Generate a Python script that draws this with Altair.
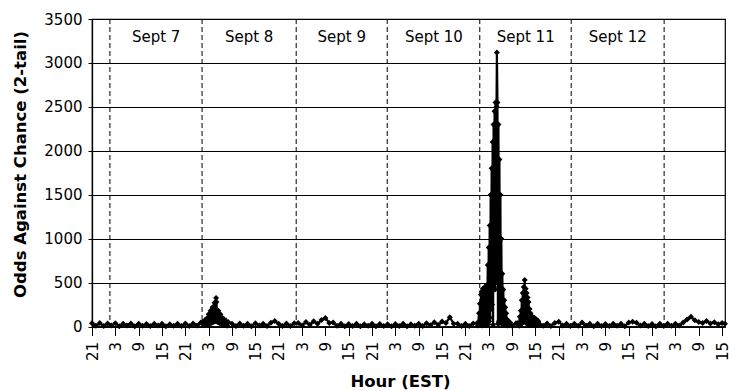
import altair as alt
import pandas as pd

# ---------------- data (hours since Sept 6, 21:00 EST) ----------------
base_a_hours = list(range(0, 29))
base_a_vals = [38, 8, 40, 5, 33, 12, 36, 4, 30, 10,
               34, 3, 30, 9, 28, 6, 32, 11, 30, 4,
               27, 9, 31, 5, 34, 7, 35, 10, 45]

# Sept 8 morning peak
peak8 = [(28.5, 50), (28.75, 15), (29.0, 70), (29.25, 20), (29.5, 90), (29.75, 25),
         (30.0, 140), (30.25, 30), (30.5, 180), (30.75, 40), (31.0, 220), (31.25, 50),
         (31.5, 270), (31.75, 60), (31.9, 325), (32.0, 280), (32.25, 50), (32.5, 180),
         (32.75, 40), (33.0, 140), (33.25, 30), (33.5, 100), (33.75, 25), (34.0, 80),
         (34.25, 20), (34.5, 60), (34.75, 15), (35.0, 50)]

base_b_hours = list(range(36, 99))
base_b_vals = [30, 5, 34, 8, 30, 4, 36, 10, 32, 6,
               42, 62, 30, 6, 34, 5, 36, 40, 12, 50,
               20, 60, 30, 75, 98, 40, 45, 8, 30, 4,
               28, 6, 30, 3, 26, 8, 30, 4, 28, 7,
               26, 3, 28, 6, 30, 4, 26, 8, 30, 5,
               38, 15, 48, 20, 58, 40, 105, 30, 32, 6,
               30, 5, 34]

# Sept 11 main spike
spike = [(99.0, 40), (99.25, 10), (99.5, 150), (99.625, 20), (99.75, 260), (99.875, 15),
         (100.0, 360), (100.125, 30), (100.25, 400), (100.375, 10), (100.5, 430),
         (100.625, 40), (100.75, 390), (100.875, 20), (101.0, 450), (101.125, 30),
         (101.25, 410), (101.375, 15), (101.5, 470), (101.625, 50), (101.75, 700),
         (101.875, 25), (102.0, 900), (102.125, 60), (102.25, 1150), (102.375, 100),
         (102.5, 1500), (102.625, 200), (102.75, 1800), (102.875, 250), (103.0, 2100),
         (103.125, 20), (103.25, 2300), (103.375, 450), (103.5, 2450), (103.625, 420),
         (103.75, 2550), (103.875, 500), (104.0, 2500), (104.1, 3120), (104.25, 2550),
         (104.375, 30), (104.5, 2300), (104.625, 60), (104.75, 1900), (104.875, 40),
         (105.0, 1500), (105.125, 80), (105.25, 1000), (105.375, 30), (105.5, 600),
         (105.625, 50), (105.75, 420), (105.875, 20), (106.0, 300), (106.125, 30),
         (106.25, 220), (106.375, 15), (106.5, 150), (106.625, 20), (106.75, 80),
         (106.875, 10), (107.0, 60), (107.25, 20), (107.5, 45)]

base_c_hours = [108, 109]
base_c_vals = [8, 36]

# Sept 11 second spike
spike2 = [(109.5, 40), (109.75, 15), (110.0, 110), (110.125, 20), (110.25, 180),
          (110.375, 30), (110.5, 300), (110.625, 40), (110.75, 380), (110.875, 50),
          (111.0, 450), (111.125, 60), (111.25, 530), (111.375, 50), (111.5, 430),
          (111.625, 40), (111.75, 380), (111.875, 30), (112.0, 330), (112.125, 40),
          (112.25, 280), (112.375, 30), (112.5, 200), (112.625, 25), (112.75, 150),
          (113.0, 20), (113.25, 110), (113.5, 15), (113.75, 100), (114.0, 20),
          (114.25, 80), (114.5, 15), (114.75, 60), (115.0, 30)]

base_d_hours = list(range(116, 163)) + [162.75]
base_d_vals = [8, 35, 6, 40, 55, 12, 30, 5, 32, 8,
               45, 10, 30, 4, 30, 6, 28, 5, 32, 8,
               30, 4, 45, 55, 42, 10, 30, 6, 28, 4,
               30, 5, 32, 8, 30, 10, 45, 80, 110, 70,
               50, 40, 62, 35, 48, 25, 40, 30]

# day separators and labels
day_line_hours = [4.6, 28.3, 52.5, 75.9, 99.7, 123.2, 147.1]
day_label_hours = [16.5, 40.4, 64.2, 87.9, 111.5, 135.2]
day_labels = ["Sept 7", "Sept 8", "Sept 9", "Sept 10", "Sept 11", "Sept 12"]

# axes
tick_hours = list(range(0, 163, 6))
tick_labels = ["21", "3", "9", "15", "21", "3", "9", "15", "21", "3", "9", "15",
               "21", "3", "9", "15", "21", "3", "9", "15", "21", "3", "9", "15",
               "21", "3", "9", "15"]
y_ticks = [0, 500, 1000, 1500, 2000, 2500, 3000, 3500]

# ---------------- build ----------------
hours = (base_a_hours + [p[0] for p in peak8] + base_b_hours + [p[0] for p in spike]
         + base_c_hours + [p[0] for p in spike2] + base_d_hours)
vals = (base_a_vals + [p[1] for p in peak8] + base_b_vals + [p[1] for p in spike]
        + base_c_vals + [p[1] for p in spike2] + base_d_vals)
df = pd.DataFrame({"h": hours, "v": vals})
df_lines = pd.DataFrame({"h": day_line_hours})
df_labels = pd.DataFrame({"h": day_label_hours, "label": day_labels})

FONT = "DejaVu Sans"
x_scale = alt.Scale(domain=[0, 162.75], nice=False, zero=False)
y_scale = alt.Scale(domain=[0, 3500], nice=False)

label_expr = "[" + ",".join("'%s'" % s for s in tick_labels) + "][round(datum.value / 6)]"

x_axis = alt.Axis(
    values=tick_hours, labelExpr=label_expr, labelAngle=-90, labelOverlap=False,
    labelBound=False, labelFlush=False,
    tickSize=9, labelPadding=6, grid=False,
    title="Hour (EST)", titleFontSize=16.5, titleFontWeight="bold",
    titleX=308, titleY=60, titleBaseline="alphabetic", titleAlign="center",
)
y_axis = alt.Axis(
    values=y_ticks, format="d", tickSize=4, labelPadding=6,
    grid=True, gridColor="black", gridWidth=1,
    title="Odds Against Chance (2-tail)", titleFontSize=16.5, titleFontWeight="bold",
    titleX=-67, titleY=145, titleAngle=270, titleBaseline="alphabetic", titleAlign="center",
)

X = alt.X("h:Q", scale=x_scale, axis=x_axis)
Y = alt.Y("v:Q", scale=y_scale, axis=y_axis)

rules = alt.Chart(df_lines).mark_rule(color="black", strokeWidth=1, strokeDash=[5, 3]).encode(
    x=X,
)
line = alt.Chart(df).mark_line(color="black", strokeWidth=2.2).encode(x=X, y=Y)
points = alt.Chart(df).mark_point(
    shape="diamond", filled=True, size=36, color="black", opacity=1
).encode(x=X, y=Y)

labels = alt.Chart(df_labels).mark_text(
    font=FONT, fontSize=15, color="black", baseline="alphabetic", align="center"
).encode(
    x=X,
    y=alt.value(22.7),
    text="label:N",
)

chart = alt.layer(rules, line, points, labels).properties(
    width=633, height=307.5,
    autosize=alt.AutoSizeParams(type="none"),
    padding={"left": 84, "top": 11, "right": 8, "bottom": 64.5},
    background="white",
).configure_view(
    stroke="black", strokeWidth=1.2
).configure_axis(
    labelFont=FONT, labelFontSize=15, labelColor="black",
    titleFont=FONT, titleColor="black",
    domainColor="black", domainWidth=1.3, tickColor="black", tickWidth=1,
).configure_axisX(
    labelOverlap=False
)

chart.save("out.html", embed_options={"renderer": "svg", "actions": False})
